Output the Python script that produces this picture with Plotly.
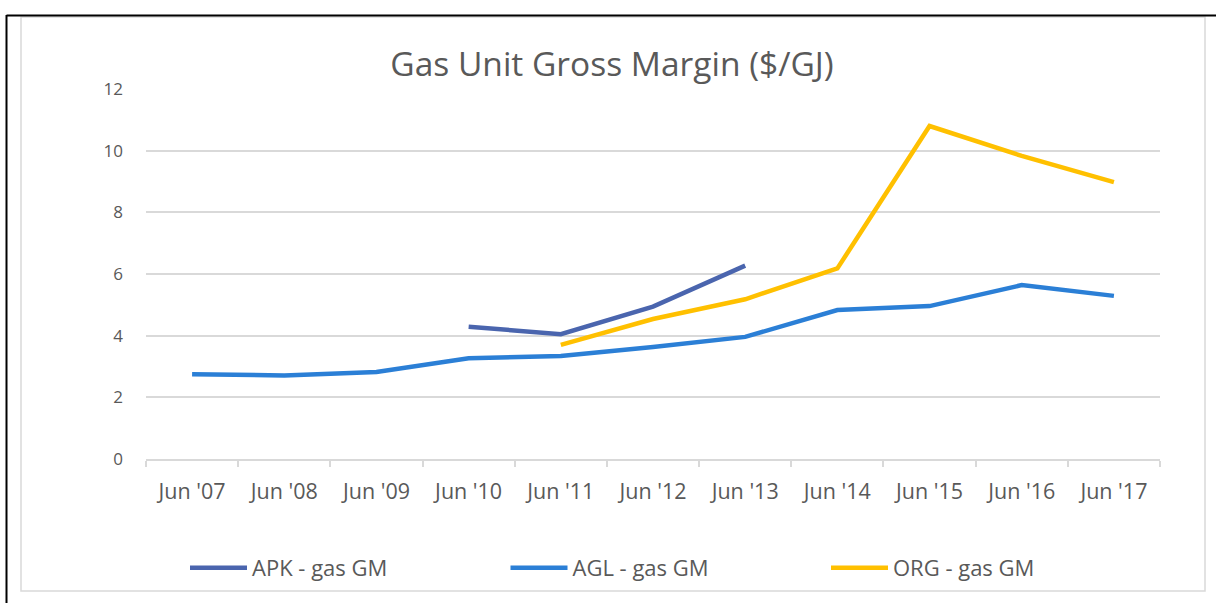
import plotly.graph_objects as go

categories = ["Jun '07", "Jun '08", "Jun '09", "Jun '10", "Jun '11", "Jun '12",
              "Jun '13", "Jun '14", "Jun '15", "Jun '16", "Jun '17"]
apk = [None, None, None, 4.29, 4.05, 4.94, 6.27, None, None, None, None]
agl = [2.75, 2.71, 2.82, 3.27, 3.34, 3.63, 3.96, 4.83, 4.96, 5.64, 5.29]
org = [None, None, None, None, 3.70, 4.54, 5.18, 6.18, 10.80, 9.83, 8.98]

series_names = ["APK - gas GM", "AGL - gas GM", "ORG - gas GM"]
series_colors = ["#4A65AE", "#2B7FD6", "#FFC000"]

W, H = 1216, 603
L, R, T, B = 146, 56, 89, 144
pw, ph = W - L - R, H - T - B

def px_x(x):
    return (x - L) / pw

def px_y(y):
    return (H - B - y) / ph

FONT = "'Open Sans', Lato, sans-serif"
GREY = "#595959"

fig = go.Figure()
for name, vals, col in zip(series_names, [apk, agl, org], series_colors):
    fig.add_trace(go.Scatter(
        x=categories, y=vals, name=name, mode="lines",
        line=dict(color=col, width=4.5),
        connectgaps=False,
    ))

shapes = [
    dict(type="rect", xref="paper", yref="paper",
         x0=px_x(21), x1=px_x(1205), y0=px_y(591), y1=px_y(17),
         line=dict(color="#D9D9D9", width=1.5), layer="below"),
    dict(type="line", xref="paper", yref="paper",
         x0=px_x(6.5), x1=px_x(1216), y0=px_y(15.5), y1=px_y(15.5),
         line=dict(color="black", width=2)),
    dict(type="line", xref="paper", yref="paper",
         x0=px_x(6.5), x1=px_x(6.5), y0=px_y(15), y1=px_y(603),
         line=dict(color="black", width=2)),
]

fig.update_layout(
    width=W, height=H,
    margin=dict(l=L, r=R, t=T, b=B),
    paper_bgcolor="white", plot_bgcolor="white",
    font=dict(family=FONT, color=GREY),
    title=dict(text="Gas Unit Gross Margin ($/GJ)", xref="container", yref="container",
               x=612 / W, y=1 - 64 / H, xanchor="center", yanchor="middle",
               font=dict(family=FONT, size=33.5, color=GREY)),
    xaxis=dict(type="category", showgrid=False, showline=True, linecolor="#D9D9D9",
               linewidth=1.5, ticks="outside", tickson="boundaries", ticklen=6,
               tickcolor="#D9D9D9", tickwidth=1.5,
               tickfont=dict(family=FONT, size=21.5, color=GREY),
               ticklabelstandoff=12, range=[-0.5, 10.5], zeroline=False),
    yaxis=dict(range=[0, 12], dtick=2, tick0=0, showgrid=True, gridcolor="#D9D9D9",
               gridwidth=1.5, zeroline=False, showline=False, ticks="",
               tickfont=dict(family=FONT, size=17, color=GREY),
               ticklabelstandoff=22),
    showlegend=True,
    legend=dict(orientation="h", x=px_x(185), y=px_y(568), xanchor="left", yanchor="middle",
                font=dict(family=FONT, size=22, color=GREY),
                itemwidth=57, entrywidth=248.5, entrywidthmode="pixels",
                bgcolor="rgba(0,0,0,0)"),
    shapes=shapes,
)

fig.write_html("out.html", config={"displayModeBar": False},
               post_script="document.body.style.margin='0';document.body.style.overflow='hidden';")
